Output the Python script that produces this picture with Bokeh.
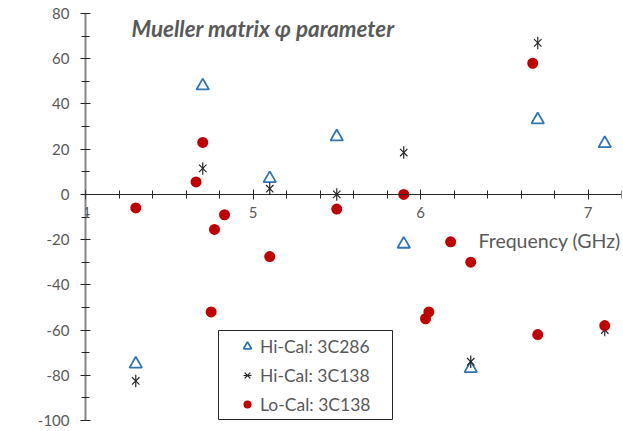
import math
from bokeh.plotting import figure
from bokeh.models import (Range1d, SingleIntervalTicker, Legend, LegendItem,
                          Label, BoxAnnotation, PrintfTickFormatter, LinearAxis)
from bokeh.embed import file_html
from bokeh.resources import INLINE

# ---- data ----
hical_286_freq = [4.3, 4.7, 5.1, 5.5, 5.9, 6.3, 6.7, 7.1]
hical_286_phi = [-75, 48, 7, 25.5, -22, -77, 33, 22.5]

hical_138_freq = [4.3, 4.7, 5.1, 5.5, 5.9, 6.3, 6.7, 7.1]
hical_138_phi = [-82.5, 11.5, 2.5, 0, 18.5, -74, 67, -60]

local_138_freq = [4.30, 4.66, 4.70, 4.83, 4.77, 4.75, 5.10, 5.50, 5.90,
                  6.18, 6.30, 6.05, 6.03, 6.70, 7.10, 6.67]
local_138_phi = [-6, 5.5, 23, -9, -15.5, -52, -27.5, -6.5, 0,
                 -21, -30, -52, -55, -62, -58, 58]

FONT = "Lato"
GRAY = "#595959"
DARK = "#262626"

p = figure(width=623, height=431, output_backend="svg", toolbar_location=None,
           x_range=Range1d(4, 7.2), y_range=Range1d(-100, 80),
           x_axis_location=None, y_axis_location=None,
           min_border_left=85, min_border_right=2, min_border_top=13,
           min_border_bottom=11)
p.outline_line_color = None
p.xgrid.visible = False
p.ygrid.visible = False
p.background_fill_color = "white"
p.border_fill_color = "white"

ya = LinearAxis(ticker=SingleIntervalTicker(interval=20, num_minor_ticks=2),
                formatter=PrintfTickFormatter(format="%d"))
ya.axis_line_color = "#868686"
ya.axis_line_width = 2
ya.major_tick_line_color = DARK
ya.minor_tick_line_color = DARK
ya.major_tick_in = 5
ya.major_tick_out = 5
ya.minor_tick_in = 4
ya.minor_tick_out = 4
ya.major_label_text_font = FONT
ya.major_label_text_font_size = "15px"
ya.major_label_text_color = GRAY
ya.major_label_standoff = 11
p.add_layout(ya, "left")

# x axis drawn at phi = 0, on top of the y axis line
xa = LinearAxis(ticker=SingleIntervalTicker(interval=1, num_minor_ticks=5),
                fixed_location=0, level="annotation")
xa.axis_line_color = DARK
xa.axis_line_width = 1
xa.major_tick_line_color = DARK
xa.minor_tick_line_color = DARK
xa.major_tick_in = 5
xa.major_tick_out = 5
xa.minor_tick_in = 4
xa.minor_tick_out = 4
xa.major_label_text_font = FONT
xa.major_label_text_font_size = "15px"
xa.major_label_text_color = GRAY
xa.major_label_standoff = 8
if "major_label_background_fill_color" in xa.properties():
    xa.major_label_background_fill_color = "white"
p.add_layout(xa, "below")

r1 = p.scatter(hical_286_freq, hical_286_phi, marker="triangle", size=12.5,
               fill_color=None, line_color="#2E75B6", line_width=1.8)
r2a = p.scatter(hical_138_freq, hical_138_phi, marker="x", size=10.5,
                line_color=DARK, line_width=1.2)
r2b = p.scatter(hical_138_freq, hical_138_phi, marker="dash", size=12.5,
                angle=math.pi / 2, line_color=DARK, line_width=1.2)
r3 = p.scatter(local_138_freq, local_138_phi, marker="circle", size=11,
               fill_color="#C00000", line_color="#C00000", line_width=0)

# legend frame
box = BoxAnnotation(left=133, right=307, bottom=1, top=90,
                    left_units="screen", right_units="screen",
                    bottom_units="screen", top_units="screen",
                    fill_color="white", fill_alpha=1.0,
                    line_color=DARK, line_width=1, line_alpha=1.0)
p.add_layout(box)

legend = Legend(items=[LegendItem(label="Hi-Cal: 3C286", renderers=[r1]),
                       LegendItem(label="Hi-Cal: 3C138", renderers=[r2a, r2b]),
                       LegendItem(label="Lo-Cal: 3C138", renderers=[r3])],
                location=(152, 5), padding=0, spacing=7,
                glyph_width=20, glyph_height=22, label_height=22,
                label_standoff=3,
                label_text_font=FONT, label_text_font_size="17.5px",
                label_text_color=GRAY, border_line_color=None,
                background_fill_alpha=0)
p.add_layout(legend, "center")

title = Label(x=46, y=392, x_units="screen", y_units="screen",
              text="Mueller matrix φ parameter", text_font=FONT,
              text_font_size="22.4px", text_font_style="bold italic",
              text_color=GRAY, text_baseline="middle", text_align="left")
p.add_layout(title)

xlabel = Label(x=393, y=180, x_units="screen", y_units="screen",
               text="Frequency (GHz)", text_font=FONT,
               text_font_size="19.5px", text_color=GRAY,
               text_baseline="middle", text_align="left")
p.add_layout(xlabel)

ylabel = Label(x=-67, y=254, x_units="screen", y_units="screen",
               text="φ (degrees)", text_font=FONT, angle=math.pi / 2,
               text_font_size="17px", text_font_style="bold",
               text_color=GRAY, text_baseline="middle", text_align="center")
p.add_layout(ylabel)

open("out.html", "w").write(file_html(p, INLINE))
